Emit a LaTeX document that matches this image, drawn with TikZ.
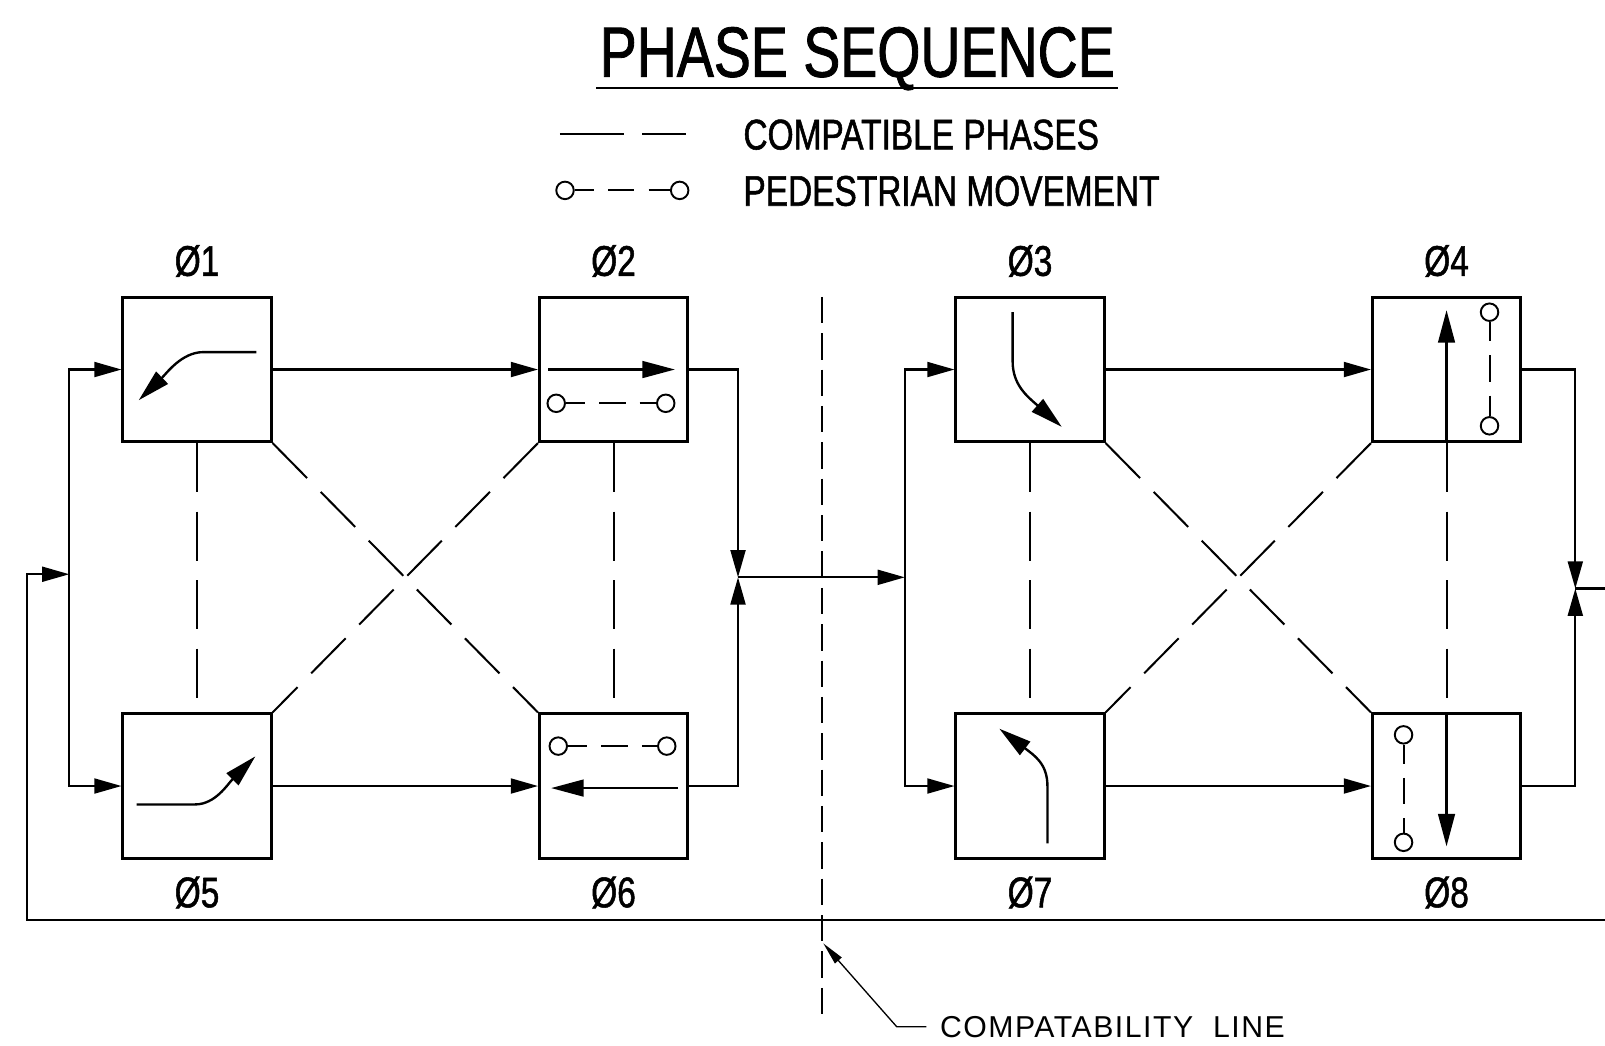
\documentclass[tikz,border=0pt]{standalone}
\usepackage{fontspec}
\setmainfont{Liberation Sans}[FakeStretch=0.78,FakeBold=1.2]
\newfontfamily\leaderfont{Liberation Sans}[LetterSpace=5]
\usepackage{tikz}
\usetikzlibrary{positioning, calc, arrows.meta}
\tikzstyle{phasebox} = [draw,line width=1.5pt,minimum width=2.97cm,minimum height=2.89cm,inner sep=0pt]
\tikzstyle{flowarrow} = [line width=1.25pt,-{Triangle[length=15.5pt,width=8.5pt]}]
\tikzstyle{flowline} = [line width=1.25pt]
\tikzstyle{turnarrow} = [line width=1.35pt,-{Triangle[length=18.5pt,width=9.5pt]}]
\tikzstyle{compatline} = [line width=1.15pt,dash pattern=on 28pt off 11pt]
\tikzstyle{cpline} = [line width=1.2pt,dash pattern=on 15pt off 5.7pt]
\tikzstyle{pedend} = [draw,circle,line width=1.1pt,minimum size=0.35cm,inner sep=0pt]
\tikzstyle{pedline} = [line width=1.15pt,dash pattern=on 11pt off 8pt on 15pt off 8pt on 20pt off 100pt]
\tikzstyle{phlabel} = [font=\fontsize{24.4}{26}\selectfont,inner sep=0pt]
\tikzstyle{legtext} = [font=\fontsize{24.4}{26}\selectfont,inner sep=0pt,anchor=base west]
\tikzstyle{titletext} = [font=\fontsize{40.5}{44}\selectfont,inner xsep=1.7pt,inner ysep=0pt,anchor=base]
\tikzstyle{leader} = [line width=0.75pt,-{Triangle[length=13pt,width=5pt]}]

\begin{document}
\begin{tikzpicture}[x=0.020472cm,y=-0.020472cm,node distance=8.332cm,on grid]
    \useasboundingbox (0,0) rectangle (1568,1021);

    \node[titletext] (title) at (837.5,75) {PHASE SEQUENCE};
    \draw[line width=1.3pt] ([yshift=-6.4pt]title.base west) -- ([yshift=-6.4pt]title.base east);

    \node[legtext] (lg_1) at (726,146) {COMPATIBLE PHASES};
    \node[legtext] (lg_2) at (726,201) {PEDESTRIAN MOVEMENT};
    \coordinate (lc_a) at (547,131);
    \coordinate (lc_b) at (670,131);
    \draw[compatline,dash pattern=on 36.6pt off 10.4pt] (lc_a) -- (lc_b);
    \node[pedend] (lp_a) at (552,186) {};
    \node[pedend] (lp_b) at (664,186) {};
    \path[pedline] (lp_a) edge (lp_b);

    \node[phasebox] (p_1) at (192.5,361) {};
    \node[phasebox] (p_2) [right=of p_1] {};
    \node[phasebox] (p_3) [right=of p_2] {};
    \node[phasebox] (p_4) [right=of p_3] {};
    \node[phasebox] (p_5) [below=of p_1] {};
    \node[phasebox] (p_6) [right=of p_5] {};
    \node[phasebox] (p_7) [right=of p_6] {};
    \node[phasebox] (p_8) [right=of p_7] {};

    \node[phlabel] (l_1) [above=2.17cm of p_1] {Ø1};
    \node[phlabel] (l_2) [above=2.17cm of p_2] {Ø2};
    \node[phlabel] (l_3) [above=2.17cm of p_3] {Ø3};
    \node[phlabel] (l_4) [above=2.17cm of p_4] {Ø4};
    \node[phlabel] (l_5) [below=2.13cm of p_5] {Ø5};
    \node[phlabel] (l_6) [below=2.13cm of p_6] {Ø6};
    \node[phlabel] (l_7) [below=2.13cm of p_7] {Ø7};
    \node[phlabel] (l_8) [below=2.13cm of p_8] {Ø8};

    % movements
    \begin{scope}[shift={(p_1.center)}]
        \draw[turnarrow] (58,-17) -- (6,-17) .. controls (-15,-17) and (-30,4) .. (-57,30);
    \end{scope}
    \begin{scope}[shift={(p_5.center)}]
        \draw[turnarrow] (-59,18) -- (-2,18) .. controls (18,18) and (30,-2) .. (57,-29);
    \end{scope}
    \begin{scope}[shift={(p_3.center)}]
        \draw[turnarrow] (-17,-56) -- (-17,-8) .. controls (-17,15) and (-3,26) .. (31,56);
    \end{scope}
    \begin{scope}[shift={(p_7.center)}]
        \draw[turnarrow] (17,56) -- (17,0) .. controls (17,-22) and (4,-30) .. (-30,-56);
    \end{scope}
    \begin{scope}[shift={(p_2.center)}]
        \draw[turnarrow] (-64,0) -- (60,0);
        \node[pedend] (w_2a) at (-56,33) {};
        \node[pedend] (w_2b) at (51,33) {};
        \path[pedline] (w_2a) edge (w_2b);
    \end{scope}
    \begin{scope}[shift={(p_6.center)}]
        \draw[turnarrow] (63,2) -- (-61,2);
        \node[pedend] (w_6a) at (-54,-39) {};
        \node[pedend] (w_6b) at (52,-39) {};
        \path[pedline] (w_6a) edge (w_6b);
    \end{scope}
    \begin{scope}[shift={(p_4.center)}]
        \draw[turnarrow] (0,70.5) -- (0,-58);
        \node[pedend] (w_4a) at (42,-56) {};
        \node[pedend] (w_4b) at (42,55) {};
        \path[pedline] (w_4a) edge (w_4b);
    \end{scope}
    \begin{scope}[shift={(p_8.center)}]
        \draw[turnarrow] (0,-70.5) -- (0,59);
        \node[pedend] (w_8a) at (-42,-50) {};
        \node[pedend] (w_8b) at (-42,55) {};
        \path[pedline] (w_8a) edge (w_8b);
    \end{scope}

    % compatible phases
    \path[compatline]
    (p_1) edge (p_5)
    (p_2) edge (p_6)
    (p_3) edge (p_7)
    (p_4) edge (p_8)
    (p_1.south east) edge (p_6.north west)
    (p_2.south west) edge (p_5.north east)
    (p_3.south east) edge (p_8.north west)
    (p_4.south west) edge (p_7.north east);

    % sequence
    \coordinate (k_1) at (67.7,561);
    \coordinate (j_1) at (721,564);
    \coordinate (k_2) at (884,564);
    \coordinate (j_2) at (1539,575);
    \coordinate (e_1) at (1568,575);
    \coordinate (e_2) at (1568,899);
    \coordinate (r_1) at (26.7,899);
    \draw[flowarrow] (p_1) -- (p_2);
    \draw[flowarrow] (p_5) -- (p_6);
    \draw[flowarrow] (p_3) -- (p_4);
    \draw[flowarrow] (p_7) -- (p_8);
    \draw[flowarrow] (p_2.east) -| (j_1);
    \draw[flowarrow] (p_6.east) -| (j_1);
    \draw[flowarrow] (j_1) -- (k_2);
    \draw[flowarrow] (k_2) |- (p_3.west);
    \draw[flowarrow] (k_2) |- (p_7.west);
    \draw[flowarrow] (p_4.east) -| (j_2);
    \draw[flowarrow] (p_8.east) -| (j_2);
    \draw[flowline] (j_2) -- (e_1);
    \draw[flowarrow] (e_2) -- (r_1) |- (k_1);
    \draw[flowarrow] (k_1) |- (p_1.west);
    \draw[flowarrow] (k_1) |- (p_5.west);

    % compatability line
    \coordinate (c_top) at (802.7,290);
    \coordinate (c_bot) at (802.7,995);
    \coordinate (c_tip) at (804.3,921.6);
    \coordinate (c_knee) at (876,1003);
    \draw[cpline] (c_top) -- (c_bot);
    \node[font=\leaderfont\fontsize{17.2}{19}\selectfont,inner sep=0pt,anchor=west] (cl) at (918,1003) {COMPATABILITY\ \ LINE};
    \draw[leader] ([xshift=-7.5pt]cl.west) -- (c_knee) -- (c_tip);
\end{tikzpicture}
\end{document}
